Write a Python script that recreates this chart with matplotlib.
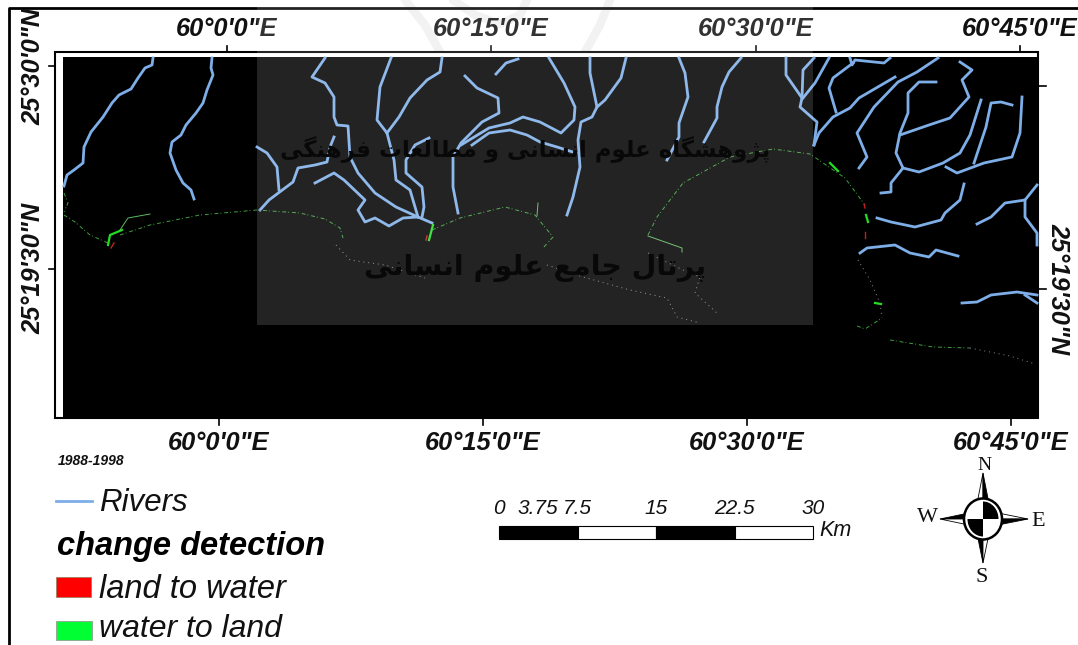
import numpy as np
import matplotlib
matplotlib.use("Agg")
import matplotlib.pyplot as plt
from matplotlib.patches import Rectangle, Ellipse, Polygon

plt.rcParams["font.family"] = ["Liberation Sans", "DejaVu Sans"]

# river traces (map pixels)
rivers = [
    [(153,58),(152,65),(145,68),(138,78),(131,89),(119,95),(112,103),(103,117),(91,132),(84,147),(83,163),(74,170),(67,175),(64,186)],
    [(212,58),(211,68),(213,75),(207,90),(203,103),(196,113),(186,125),(181,135),(172,142),(170,153),(176,170),(183,183),(191,190),(194,199)],
    [(325,58),(312,77),(325,83),(334,97),(334,117),(337,125),(348,126),(350,157),(358,173),(375,193),(396,207),(418,217)],
    [(391,58),(380,87),(377,120),(387,133),(394,160),(396,180),(410,190),(418,217)],
    [(442,58),(440,72),(427,80),(410,98),(399,117),(387,133)],
    [(257,147),(267,153),(277,167),(279,190)],
    [(260,210),(269,200),(281,191),(293,182),(298,168),(315,165),(327,162),(330,147),(334,137)],
    [(315,183),(334,173),(344,180),(365,200),(358,210),(365,222),(375,218),(389,226),(403,218),(418,217),(432,223)],
    [(429,138),(415,145),(406,160),(406,173),(422,187),(424,207),(422,217)],
    [(465,76),(477,88),(498,98),(499,113),(482,122),(461,143),(453,157),(453,187),(458,213)],
    [(496,74),(506,63),(518,59)],
    [(461,145),(489,128),(510,123),(523,117),(540,122),(561,133),(574,120),(575,107),(564,83),(549,58)],
    [(472,145),(489,133),(510,130),(527,135),(540,142),(557,147),(576,153)],
    [(590,58),(590,73),(597,107),(592,117),(581,122),(578,140),(580,167),(573,197),(567,215)],
    [(626,58),(621,78),(605,100),(597,107)],
    [(679,58),(685,73),(688,97),(679,123),(679,137),(667,160)],
    [(741,58),(729,72),(722,87),(717,107),(717,118),(704,142)],
    [(786,58),(786,75),(802,98),(800,107),(817,122),(814,145)],
    [(814,58),(803,70),(802,98)],
    [(829,58),(815,83),(803,98)],
    [(814,145),(819,133),(833,117),(850,108),(859,98),(895,77)],
    [(853,63),(833,78),(829,88),(836,112)],
    [(850,58),(852,65),(855,60),(884,63),(890,58)],
    [(938,58),(917,72),(898,82),(874,107),(857,133),(867,157),(859,168)],
    [(936,82),(919,82),(908,93),(908,113),(900,133),(896,153),(903,168),(919,172),(943,163),(960,153),(970,135),(981,100)],
    [(900,135),(929,125),(950,118),(969,97),(962,80),(972,70),(960,62)],
    [(903,168),(891,183),(891,192),(881,193)],
    [(946,167),(957,173),(984,163),(1012,157),(1020,133),(1022,97)],
    [(974,163),(986,127),(991,103),(1001,102),(1012,105)],
    [(964,184),(960,200),(945,213),(941,220),(915,227),(891,222),(877,218)],
    [(1037,185),(1025,200),(1005,203),(991,217),(977,224)],
    [(1025,200),(1025,217),(1037,233),(1037,245)],
    [(860,253),(867,248),(895,245),(910,253),(929,257),(936,250),(958,256)],
    [(962,303),(977,302),(991,295),(1017,292),(1037,295)],
    [(1025,295),(1037,303)],
]

# shoreline, change classes
coast_green = [
    [(64,193),(68,203),(64,212)],
    [(64,215),(75,222),(90,235),(108,243)],
    [(120,235),(150,225),(200,215),(257,210),(300,213),(325,219),(340,228),(343,238)],
    [(432,230),(460,218),(505,207),(535,215),(553,237),(543,248)],
    [(648,235),(657,217),(683,183),(730,157),(773,149),(810,154),(845,178),(865,205)],
    [(857,326),(865,329),(882,318)],
    [(890,340),(933,347),(970,348)],
]
coast_pale = [
    [(336,245),(350,260),(385,265),(425,278)],
    [(547,265),(583,277),(630,290),(667,298),(677,317),(700,323)],
    [(648,253),(683,270),(700,277),(695,293),(717,313)],
    [(858,260),(870,280),(880,303),(882,318)],
    [(970,348),(1010,356),(1035,364)],
]
gain_patches = [
    [(108,245),(110,235),(122,230)],
    [(429,240),(433,225)],
    [(830,163),(838,171)],
    [(866,215),(868,222)],
    [(875,303),(881,304)],
]
gain_traces = [
    [(120,230),(128,218),(150,214)],
    [(648,236),(682,248),(682,252)],
    [(538,203),(537,216)],
]
loss_patches = [
    [(111,248),(114,243)],
    [(427,236),(426,240)],
    [(864,204),(865,208)],
    [(865,232),(865,238)],
]

top_lon_labels = ["60°0'0\"E", "60°15'0\"E", "60°30'0\"E", "60°45'0\"E"]
top_lon_pos = [227, 491, 756, 1020]
bottom_lon_pos = [219, 483, 747, 1011]
left_lat_labels = ["25°30'0\"N", "25°19'30\"N"]
left_lat_pos = [66, 269]
right_lat_pos = [86, 289]

scale_values = [0, 3.75, 7.5, 15, 22.5, 30]
scale_labels = ["0", "3.75", "7.5", "15", "22.5", "30"]
scale_fill = ["k", "w", "k", "w"]
scale_steps = [0, 7.5, 15, 22.5, 30]

# "پرتال جامع علوم انسانی" and the first line, shaped by hand, visual order
mark_line_1 = ("\uFB58\uFB8B\uFEED\uFEEB\uFEB8\uFB95\uFE8E\uFEE9 \uFECB\uFEE0\uFEEE\uFEE1 "
               "\uFE8D\uFEE7\uFEB4\uFE8E\uFEE7\uFBFD \uFEED \uFEE3\uFEC4\uFE8E\uFEDF\uFECC\uFE8E\uFE95 "
               "\uFED3\uFEAE\uFEEB\uFEE8\uFB95\uFBFD")[::-1]
mark_line_2 = ("\uFB58\uFEAE\uFE97\uFE8E\uFEDD \uFE9F\uFE8E\uFEE3\uFECA \uFECB\uFEE0\uFEEE\uFEE1 "
               "\uFE8D\uFEE7\uFEB4\uFE8E\uFEE7\uFBFD")[::-1]

fig = plt.figure(figsize=(10.78, 6.45), dpi=100)
ax = fig.add_axes([0, 0, 1, 1])
ax.set_xlim(0, 1078)
ax.set_ylim(645, 0)
ax.axis("off")

# faint emblem above the map
for arc in ([(405, 0), (425, 25), (440, 52)], [(453, 0), (475, 15), (500, 24), (520, 15), (527, 0)], [(610, 0), (600, 25), (585, 52)]):
    pts = np.array(arc)
    ax.plot(pts[:, 0], pts[:, 1], color="#f0f0f0", lw=6, solid_capstyle="round", zorder=1)

# page border
ax.plot([9, 9, 1078], [645, 8, 8], color="k", lw=2, zorder=1)

# map frame and dark image
ax.add_patch(Rectangle((55, 52), 983, 366, fc="w", ec="k", lw=1.5, zorder=2))
ax.add_patch(Rectangle((63, 57), 974, 361, fc="k", ec="none", zorder=3))

for pos in top_lon_pos:
    ax.plot([pos, pos], [46, 52], color="k", lw=1.2, zorder=2)
for pos in bottom_lon_pos:
    ax.plot([pos, pos], [418, 425], color="k", lw=1.2, zorder=2)
for pos in left_lat_pos:
    ax.plot([49, 55], [pos, pos], color="k", lw=1.2, zorder=2)
for pos in right_lat_pos:
    ax.plot([1038, 1046], [pos, pos], color="k", lw=1.2, zorder=2)

for river in rivers:
    pts = np.array(river)
    ax.plot(pts[:, 0], pts[:, 1], color="#7eaee8", lw=2, solid_joinstyle="round", zorder=4)

for seg in coast_green:
    pts = np.array(seg)
    ax.plot(pts[:, 0], pts[:, 1], color="#3f9f3f", lw=0.7, ls=(0, (4, 2, 1, 3)), zorder=4)
for seg in coast_pale:
    pts = np.array(seg)
    ax.plot(pts[:, 0], pts[:, 1], color="#8a8a8a", lw=0.7, ls=(0, (1, 4)), zorder=4)
for seg in gain_patches:
    pts = np.array(seg)
    ax.plot(pts[:, 0], pts[:, 1], color="#22dd22", lw=1.6, zorder=5)
for seg in gain_traces:
    pts = np.array(seg)
    ax.plot(pts[:, 0], pts[:, 1], color="#5fb85f", lw=0.7, zorder=5)
for seg in loss_patches:
    pts = np.array(seg)
    ax.plot(pts[:, 0], pts[:, 1], color="#c02020", lw=1.0, zorder=5)

# graticule labels
label_style = dict(fontsize=18.3, fontweight="bold", fontstyle="italic", color="#111111",
                   ha="center", va="center", zorder=6)
for pos, lab in zip(top_lon_pos, top_lon_labels):
    ax.text(pos, 29, lab, **label_style)
for pos, lab in zip(bottom_lon_pos, top_lon_labels):
    ax.text(pos, 443, lab, **label_style)
ax.text(33, 66, left_lat_labels[0], rotation=90, **label_style)
ax.text(33, 268, left_lat_labels[1], rotation=90, **label_style)
ax.text(1058, 289, left_lat_labels[1], rotation=270, **label_style)

# repository overlay: lightened band and calligraphy
ax.add_patch(Rectangle((257, 0), 556, 325, fc="w", alpha=0.14, ec="none", zorder=7))
ax.text(525, 150, mark_line_1, fontsize=16.5, fontweight="bold", family="DejaVu Sans", color="#080808", ha="center", va="center", zorder=8)
ax.text(535, 268, mark_line_2, fontsize=20.5, fontweight="bold", family="DejaVu Sans", color="#080808", ha="center", va="center", zorder=8)

# legend
ax.text(58, 461, "1988-1998", fontsize=10, fontweight="bold", fontstyle="italic", color="#111111", va="center")
ax.plot([56, 92], [501, 501], color="#7eaee8", lw=2)
ax.text(99, 503, "Rivers", fontsize=22.5, fontstyle="italic", color="#111111", va="center")
ax.text(57, 546, "change detection", fontsize=23.5, fontweight="bold", fontstyle="italic", color="k", va="center")
ax.add_patch(Rectangle((56, 577), 35, 20, fc="#ff0000", ec="#a08060", lw=0.6))
ax.text(99, 590, "land to water", fontsize=23.5, fontstyle="italic", color="#111111", va="center")
ax.add_patch(Rectangle((56, 621), 36, 19, fc="#00ff33", ec="#90a090", lw=0.6))
ax.text(99, 629, "water to land", fontsize=23, fontstyle="italic", color="#111111", va="center")

# scale bar
bar_x = lambda km: 499 + np.array(km) / 30 * 314
for i, fill in enumerate(scale_fill):
    left, right = bar_x(scale_steps[i]), bar_x(scale_steps[i + 1])
    ax.add_patch(Rectangle((left, 526), right - left, 13, fc=fill, ec="k", lw=0.8))
for val, lab in zip(scale_values, scale_labels):
    ax.text(bar_x(val), 508, lab, fontsize=15, fontstyle="italic", color="#111111", ha="center", va="center")
ax.text(819, 531, "Km", fontsize=15.5, fontstyle="italic", color="#111111", va="center")

# north arrow
cx, cy = 983, 519
arms = [
    ((cx, 473), (cx - 9, cy), "w"), ((cx, 473), (cx + 9, cy), "k"),
    ((cx, 563), (cx - 9, cy), "k"), ((cx, 563), (cx + 9, cy), "w"),
    ((940, cy), (cx, cy - 9), "k"), ((940, cy), (cx, cy + 9), "w"),
    ((1028, cy), (cx, cy - 9), "w"), ((1028, cy), (cx, cy + 9), "k"),
]
for tip, side, fill in arms:
    ax.add_patch(Polygon([tip, side, (cx, cy)], fc=fill, ec="k", lw=0.6, zorder=3))
ax.add_patch(Ellipse((cx, cy), 38, 41, fc="w", ec="k", lw=1.8, zorder=4))
inner = Ellipse((cx, cy), 31, 35, fc="w", ec="none", zorder=4)
ax.add_patch(inner)
for corner in [(cx, cy - 18), (cx - 17, cy)]:
    quarter = Rectangle(corner, 17, 18, fc="k", ec="none", zorder=5)
    ax.add_patch(quarter)
    quarter.set_clip_path(inner)
for lab, x, y, size in [("N", 984, 465, 14), ("S", 982, 578, 16), ("W", 927, 518, 16), ("E", 1038, 521, 16)]:
    ax.text(x, y, lab, fontsize=size, family="Liberation Serif", ha="center", va="center", color="#111111")

fig.savefig("out.png", dpi=100)
